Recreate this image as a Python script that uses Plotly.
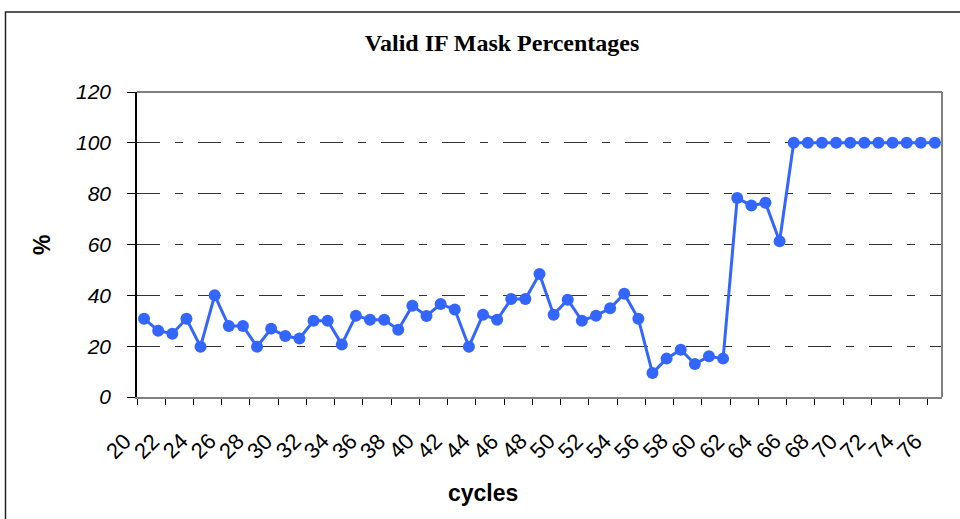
import plotly.graph_objects as go

cycles = list(range(20, 77))
valid_pct = [30.8, 26.1, 24.9, 30.8, 19.8, 40.0, 27.9, 27.9, 19.8, 26.9,
             24.0, 23.0, 30.0, 30.0, 20.7, 32.0, 30.4, 30.4, 26.5, 35.9,
             31.9, 36.6, 34.4, 19.8, 32.4, 30.4, 38.6, 38.6, 48.4, 32.4,
             38.3, 30.0, 32.0, 34.9, 40.6, 30.8, 9.4, 15.1, 18.6, 13.0,
             16.0, 15.1, 78.3, 75.3, 76.4, 61.3, 100, 100, 100, 100,
             100, 100, 100, 100, 100, 100, 100]
x_tick_vals = cycles[::2]
x_tick_text = [str(c) for c in x_tick_vals]
y_tick_vals = [0, 20, 40, 60, 80, 100, 120]

W, H = 960, 519
L, R, T, B = 137, 18, 92, 122
pw, ph = W - L - R, H - T - B

def px(xp):
    return (xp - L) / pw

def py(yp):
    return (H - B - yp) / ph

fig = go.Figure()
fig.add_trace(go.Scatter(
    x=cycles, y=valid_pct, mode="lines+markers",
    line=dict(color="#3366FF", width=3),
    marker=dict(color="#3366FF", size=12),
    showlegend=False,
))

fig.update_layout(
    width=W, height=H,
    margin=dict(l=L, r=R, t=T, b=B),
    paper_bgcolor="white", plot_bgcolor="white",
    title=dict(text="<b>Valid IF Mask Percentages</b>", x=0.523, xanchor="center",
               y=1 - 43 / H, yanchor="middle",
               font=dict(family="Liberation Serif", size=24, color="black")),
    xaxis=dict(
        range=[19.5, 76.5], tickmode="array", tickvals=x_tick_vals, ticktext=x_tick_text,
        showticklabels=False, ticks="", showgrid=False, zeroline=False,
        showline=True, linecolor="#808080", linewidth=2,
        minor=dict(tickmode="array", tickvals=[19.5 + 2 * k for k in range(29)],
                   ticks="outside", ticklen=6, tickcolor="black", tickwidth=1, showgrid=False),
    ),
    yaxis=dict(
        range=[0, 120], tickmode="array", tickvals=y_tick_vals,
        ticks="outside", ticklen=8, tickcolor="black",
        showline=True, linecolor="black", linewidth=1.5,
        showgrid=True, gridcolor="#333333", gridwidth=1, griddash="23px,15px,8px,15px",
        zeroline=False, ticklabelstandoff=12,
        tickfont=dict(family="Arial", size=21, color="black", style="italic"),
    ),
)

# rotated category labels (Excel-style placement)
for v, t in zip(x_tick_vals, x_tick_text):
    fig.add_annotation(text=t, x=v, xref="x", y=0, yref="paper",
                       xanchor="center", yanchor="middle", textangle=-45,
                       xshift=-26, yshift=-49, showarrow=False,
                       font=dict(family="Arial", size=22, color="black"))

# plot-area top and right border
fig.add_shape(type="line", xref="paper", yref="paper", x0=1, x1=1, y0=0, y1=1,
              line=dict(color="#808080", width=2))
fig.add_shape(type="line", xref="paper", yref="paper", x0=0, x1=1, y0=1, y1=1,
              line=dict(color="#808080", width=2))
# outer chart border
fig.add_shape(type="rect", xref="paper", yref="paper",
              x0=px(5.5), x1=px(990), y0=py(540), y1=py(12),
              line=dict(color="#222222", width=1.5), fillcolor="rgba(0,0,0,0)", layer="below")

fig.add_annotation(text="<b>%</b>", xref="paper", yref="paper", x=px(42), y=py(245),
                   xanchor="center", yanchor="middle",
                   showarrow=False, textangle=-90,
                   font=dict(family="Arial", size=23, color="black"))
fig.add_annotation(text="<b>cycles</b>", xref="paper", yref="paper", x=px(483), y=py(493),
                   xanchor="center", yanchor="middle",
                   showarrow=False, font=dict(family="Arial", size=23, color="black"))

fig.write_html("out.html", config={"displayModeBar": False},
               post_script="document.body.style.margin='0';document.body.style.padding='0';")
